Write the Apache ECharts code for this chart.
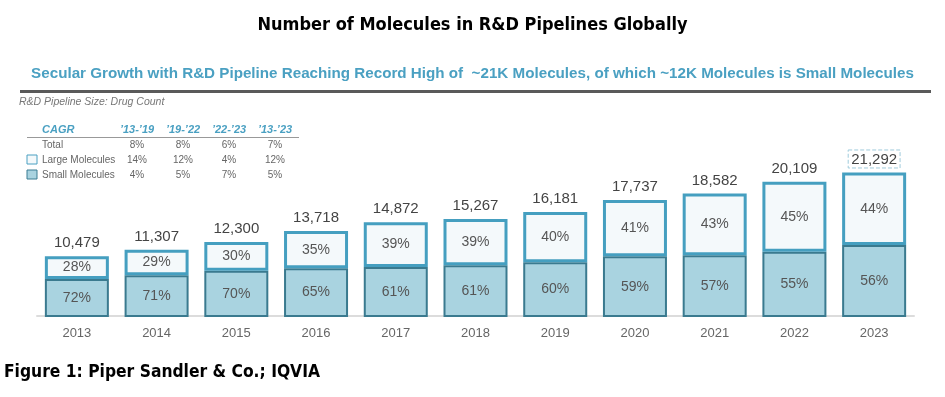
<!DOCTYPE html>
<html>
<head>
<meta charset="utf-8">
<script src="https://cdn.jsdelivr.net/npm/echarts@6/dist/echarts.min.js"></script>
<style>
html,body{margin:0;padding:0;background:#fff;}
#main{width:945px;height:397px;}
</style>
</head>
<body>
<div id="main"></div>
<script>
// ---- data ----
var years = ['2013','2014','2015','2016','2017','2018','2019','2020','2021','2022','2023'];
var totals = [10479, 11307, 12300, 13718, 14872, 15267, 16181, 17737, 18582, 20109, 21292];
var smallPct = [72, 71, 70, 65, 61, 61, 60, 59, 57, 55, 56];
var largePct = [28, 29, 30, 35, 39, 39, 40, 41, 43, 45, 44];

var cagrPeriods = ['\u201913-\u201919', '\u201919-\u201922', '\u201922-\u201923', '\u201913-\u201923'];
var cagrRowNames = ['Total', 'Large Molecules', 'Small Molecules'];
var cagrTotal = ['8%', '8%', '6%', '7%'];
var cagrLarge = ['14%', '12%', '4%', '12%'];
var cagrSmall = ['4%', '5%', '7%', '5%'];

var titleText = 'Number of Molecules in R&D Pipelines Globally';
var subtitleText = 'Secular Growth with R&D Pipeline Reaching Record High of  ~21K Molecules, of which ~12K Molecules is Small Molecules';
var unitText = 'R&D Pipeline Size: Drug Count';
var footerText = 'Figure 1: Piper Sandler & Co.; IQVIA';

// ---- derived ----
var smallVals = totals.map(function (t, i) { return Math.round(t * smallPct[i] / 100); });
var largeVals = totals.map(function (t, i) { return t - smallVals[i]; });

var FONT = '"Liberation Sans", Arial, sans-serif';
var NARROW = '"Liberation Sans Narrow", "DejaVu Sans Condensed", "Liberation Sans", sans-serif';
var TEAL = '#4aa0c2';

var chart = echarts.init(document.getElementById('main'), null, {renderer: 'canvas'});

// CAGR table graphics
var colX = [137, 183, 229, 275];
var rowY = [145, 160, 175];
var rowVals = [cagrTotal, cagrLarge, cagrSmall];
var graphics = [];
graphics.push({type: 'text', left: 'center', top: 16, style: {text: titleText, font: 'bold 18px ' + NARROW, fill: '#000'}});
graphics.push({type: 'text', left: 'center', top: 66, style: {text: subtitleText, font: 'bold 15.2px ' + FONT, fill: TEAL}});
graphics.push({type: 'rect', shape: {x: 20, y: 90, width: 911, height: 3}, style: {fill: '#5a5a5a'}});
graphics.push({type: 'text', x: 19, y: 97, style: {text: unitText, font: 'italic 10.5px ' + FONT, fill: '#777'}});
graphics.push({type: 'text', x: 42, y: 124, style: {text: 'CAGR', font: 'italic bold 11px ' + FONT, fill: TEAL}});
cagrPeriods.forEach(function (p, j) {
  graphics.push({type: 'text', x: colX[j], y: 124, style: {text: p, font: 'italic bold 11px ' + FONT, fill: TEAL, textAlign: 'center'}});
});
graphics.push({type: 'rect', shape: {x: 27, y: 137, width: 272, height: 1}, style: {fill: '#999'}});
cagrRowNames.forEach(function (n, r) {
  graphics.push({type: 'text', x: 42, y: rowY[r] - 5, style: {text: n, font: '10px ' + FONT, fill: '#666'}});
  rowVals[r].forEach(function (v, j) {
    graphics.push({type: 'text', x: colX[j], y: rowY[r] - 5, style: {text: v, font: '10px ' + FONT, fill: '#666', textAlign: 'center'}});
  });
});
graphics.push({type: 'rect', shape: {x: 27, y: 155, width: 10, height: 9}, style: {fill: '#f4f9fb', stroke: '#4aa0c2', lineWidth: 1}});
graphics.push({type: 'rect', shape: {x: 27, y: 170, width: 10, height: 9}, style: {fill: '#a9d3e0', stroke: '#3a7d93', lineWidth: 1}});
graphics.push({type: 'text', x: 4, y: 364, style: {text: footerText, font: 'bold 17.3px ' + NARROW, fill: '#000'}});

var totalData = totals.map(function (t, i) {
  var item = {value: t};
  if (i === totals.length - 1) {
    item.label = {borderColor: '#9fcbdc', borderWidth: 1, borderType: 'dashed', padding: [2, 3, 1, 3], distance: 4};
  }
  return item;
});

chart.setOption({
  animation: false,
  backgroundColor: '#fff',
  graphic: graphics,
  grid: {left: 37, right: 31, top: 167, bottom: 81},
  xAxis: {
    type: 'category',
    data: years,
    axisLine: {lineStyle: {color: '#dcdcdc', width: 2}},
    axisTick: {show: false},
    axisLabel: {color: '#666', fontSize: 13, fontFamily: FONT, margin: 11}
  },
  yAxis: {
    type: 'value',
    min: 2750,
    max: 22000,
    show: false,
    splitLine: {show: false}
  },
  series: [
    {
      name: 'Small Molecules',
      type: 'bar',
      stack: 'a',
      barWidth: 64,
      data: smallVals,
      itemStyle: {color: '#a9d3e0', borderColor: '#3a7a8f', borderWidth: 2},
      label: {
        show: true, position: 'inside', color: '#555', fontSize: 14, fontFamily: FONT,
        formatter: function (p) { return smallPct[p.dataIndex] + '%'; }
      },
      z: 2
    },
    {
      name: 'Large Molecules',
      type: 'bar',
      stack: 'a',
      barWidth: 64,
      data: largeVals,
      itemStyle: {color: '#f4f9fb', borderColor: '#459fc0', borderWidth: 3},
      label: {
        show: true, position: 'inside', color: '#555', fontSize: 14, fontFamily: FONT,
        formatter: function (p) { return largePct[p.dataIndex] + '%'; }
      },
      z: 3
    },
    {
      name: 'Total',
      type: 'line',
      data: totalData,
      symbol: 'circle',
      symbolSize: 1,
      showSymbol: true,
      itemStyle: {color: 'rgba(0,0,0,0)'},
      lineStyle: {width: 0, color: 'rgba(0,0,0,0)'},
      label: {
        show: true, position: 'top', distance: 5, color: '#444', fontSize: 15, fontFamily: FONT,
        formatter: function (p) { return p.value.toLocaleString('en-US'); }
      },
      z: 4
    }
  ]
});
</script>
</body>
</html>
